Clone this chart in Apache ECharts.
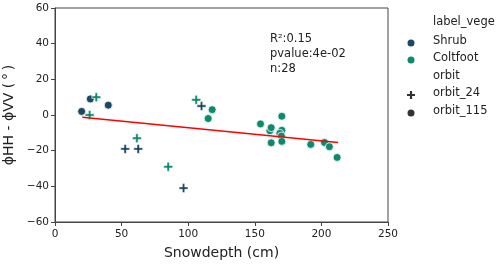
<!DOCTYPE html>
<html><head><meta charset="utf-8">
<script src="https://cdn.jsdelivr.net/npm/echarts@6/dist/echarts.min.js"></script>
<style>html,body{margin:0;padding:0;background:#fff}#c{width:500px;height:264px}</style>
</head><body><div id="c"></div>
<script>
// Data
const shrub115 = [[20, 2], [26.5, 9], [40, 5.5]];
const shrub24 = [[110, 5], [52.7, -19], [62.5, -19], [96.5, -41]];
const colt24 = [[31, 10], [26, 0], [106, 8.5], [61.5, -13], [85, -29]];
const colt115 = [[118, 3], [115, -2], [154.3, -5], [170.3, -0.7], [161.3, -8.8], [162.3, -7.1],
  [170.3, -8.6], [168.8, -10.3], [170, -11.8], [162.3, -15.6], [170.3, -14.8], [192, -16.5],
  [202.3, -15.4], [206, -17.8], [211.8, -23.8]];
const fitLine = [[20.5, -1.3], [212.5, -15.4]];
const xTicks = [0, 50, 100, 150, 200, 250];
const yTicks = [-60, -40, -20, 0, 20, 40, 60];
const statsText = ['R²:0.15', 'pvalue:4e-02', 'n:28'];
const legendItems = ['label_vege', 'Shrub', 'Coltfoot', 'orbit', 'orbit_24', 'orbit_115'];

const SHRUB = '#1b4965', COLT = '#0d8a6e', ORB = '#333333';
const PLUS = 'path://M-1.1,-4 L1.1,-4 L1.1,-1.1 L4,-1.1 L4,1.1 L1.1,1.1 L1.1,4 L-1.1,4 L-1.1,1.1 L-4,1.1 L-4,-1.1 L-1.1,-1.1 Z';
const FONT = 'DejaVu Sans';

const chart = echarts.init(document.getElementById('c'), null, {renderer: 'canvas'});
const circ = (color) => ({type: 'scatter', symbol: 'circle', symbolSize: 8,
  itemStyle: {color: color, borderColor: '#fff', borderWidth: 0.8, opacity: 1}, z: 3});
const plus = (color) => ({type: 'scatter', symbol: PLUS, symbolSize: 9,
  itemStyle: {color: color, borderColor: '#fff', borderWidth: 0.6, opacity: 1}, z: 3});

const legendGraphic = [];
const lx = 411, tx = 433, ly = [24, 43, 60, 78, 95, 113];
legendItems.forEach((t, i) => {
  legendGraphic.push({type: 'text', left: tx, top: ly[i] - 8,
    style: {text: t, font: '11.5px "' + FONT + '"', fill: '#222'}});
});
legendGraphic.push({type: 'circle', shape: {cx: lx, cy: ly[1], r: 3.5}, style: {fill: SHRUB}});
legendGraphic.push({type: 'circle', shape: {cx: lx, cy: ly[2], r: 3.5}, style: {fill: COLT}});
legendGraphic.push({type: 'polygon', shape: {points: [[lx-1.1,ly[4]-4],[lx+1.1,ly[4]-4],[lx+1.1,ly[4]-1.1],[lx+4,ly[4]-1.1],[lx+4,ly[4]+1.1],[lx+1.1,ly[4]+1.1],[lx+1.1,ly[4]+4],[lx-1.1,ly[4]+4],[lx-1.1,ly[4]+1.1],[lx-4,ly[4]+1.1],[lx-4,ly[4]-1.1],[lx-1.1,ly[4]-1.1]]}, style: {fill: ORB}});
legendGraphic.push({type: 'circle', shape: {cx: lx, cy: ly[5], r: 3.5}, style: {fill: ORB}});
statsText.forEach((t, i) => {
  legendGraphic.push({type: 'text', left: 270, top: 33 + i * 15,
    style: {text: t, font: '11.5px "' + FONT + '"', fill: '#222'}});
});

const axisCommon = {
  axisLine: {show: true, onZero: false, lineStyle: {color: '#444', width: 1}},
  axisTick: {show: true, inside: false, length: 4, lineStyle: {color: '#444'}},
  splitLine: {show: false},
  nameTextStyle: {fontFamily: FONT, fontSize: 14, color: '#222'},
};
const fmt = (v) => (v < 0 ? '\u2212' + Math.abs(v) : String(v));

chart.setOption({
  animation: false,
  backgroundColor: '#fff',
  grid: {left: 55, right: 112, top: 8, bottom: 42, show: true, borderColor: '#444', borderWidth: 1,
    containLabel: false, outerBoundsMode: 'none'},
  xAxis: Object.assign({}, axisCommon, {type: 'value', min: xTicks[0], max: xTicks[xTicks.length-1], interval: 50,
    axisLabel: {fontFamily: FONT, fontSize: 10.5, color: '#222', margin: 7, formatter: fmt},
    name: 'Snowdepth (cm)', nameLocation: 'middle', nameGap: 24}),
  yAxis: Object.assign({}, axisCommon, {type: 'value', min: yTicks[0], max: yTicks[yTicks.length-1], interval: 20,
    axisLabel: {fontFamily: FONT, fontSize: 10.5, color: '#222', margin: 6, formatter: fmt},
    name: 'ϕHH - ϕVV (\u2009°\u2009)', nameLocation: 'middle', nameGap: 32}),
  series: [
    Object.assign(circ(SHRUB), {name: 'Shrub115', data: shrub115}),
    Object.assign(plus(SHRUB), {name: 'Shrub24', data: shrub24}),
    Object.assign(plus(COLT), {name: 'Colt24', data: colt24}),
    Object.assign(circ(COLT), {name: 'Colt115', data: colt115}),
    {type: 'line', name: 'fit', data: fitLine, symbol: 'none', z: 4,
      lineStyle: {color: '#ff0000', width: 1.5}}
  ],
  graphic: legendGraphic
});
</script></body></html>
